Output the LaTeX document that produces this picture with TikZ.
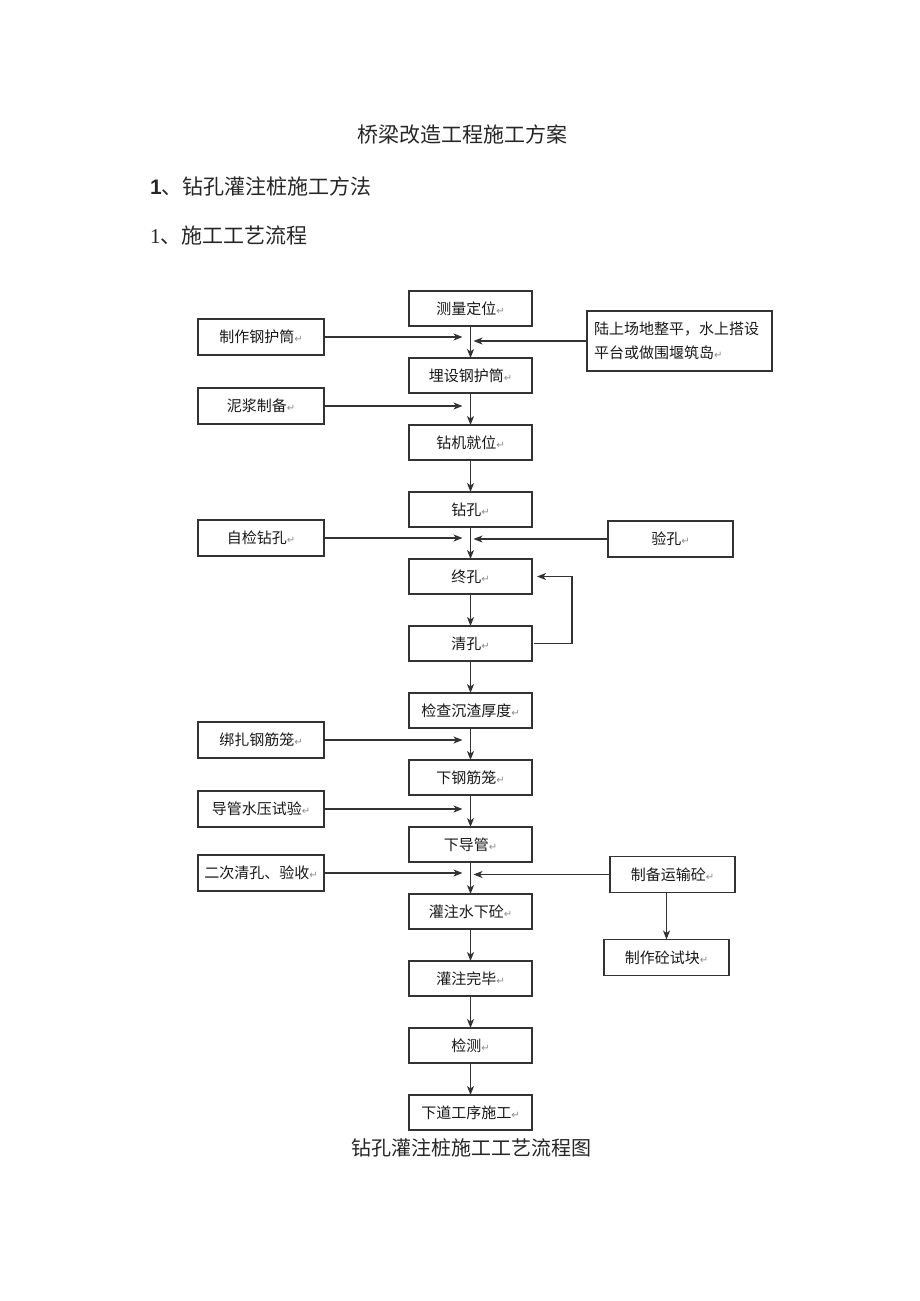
\documentclass[tikz,border=0pt]{standalone}
\usepackage{fontspec}
\setmainfont{Noto Sans CJK SC}
\newfontfamily\symfont{DejaVu Sans}
\newfontfamily\serifnum{Liberation Serif}
\newfontfamily\sansnum{Liberation Sans}
\usetikzlibrary{arrows.meta,positioning}
\newcommand{\ret}{{\symfont\fontsize{10}{10}\selectfont\color{black!45}↵}}

\begin{document}
\begin{tikzpicture}[
  x=1pt, y=-1pt,
  node distance=32pt,
  box/.style={draw=black!80, line width=1.2pt, outer sep=0pt, minimum width=123pt, minimum height=35pt, inner sep=0pt, font=\fontsize{15}{18}\selectfont, text=black!90},
  side/.style={box, minimum width=126pt, minimum height=36pt},
  heading/.style={inner sep=0pt, font=\fontsize{21}{21}\selectfont, text=black!85},
  arrow/.style={-{Stealth[length=9pt, width=7pt, inset=2.5pt]}, line width=1.2pt, draw=black!80}
]
\path[fill=white] (0,0) rectangle (920,1301);
\useasboundingbox (0,0) rectangle (920,1301);

% headings
\node[heading] (title) at (462,135) {桥梁改造工程施工方案};
\node[heading, anchor=west] (sec) at (150,186) {{\sansnum\bfseries 1}、钻孔灌注桩施工方法};
\node[heading, anchor=west] (subsec) at (150,236) {{\serifnum 1}、施工工艺流程};

% main column
\node[box] (measure) at (470.5,308.5) {测量定位\ret};
\node[box, below=of measure] (casing) {埋设钢护筒\ret};
\node[box, below=of casing] (rig) {钻机就位\ret};
\node[box, below=of rig] (drill) {钻孔\ret};
\node[box, below=of drill] (finish) {终孔\ret};
\node[box, below=of finish] (clean) {清孔\ret};
\node[box, below=of clean] (check) {检查沉渣厚度\ret};
\node[box, below=of check] (cage) {下钢筋笼\ret};
\node[box, below=of cage] (pipe) {下导管\ret};
\node[box, below=of pipe] (pour) {灌注水下砼\ret};
\node[box, below=of pour] (done) {灌注完毕\ret};
\node[box, below=of done] (test) {检测\ret};
\node[box, below=of test] (next) {下道工序施工\ret};

% left column
\node[side] (makecasing) at (261,337) {制作钢护筒\ret};
\node[side] (mud) at (261,406) {泥浆制备\ret};
\node[side] (selfcheck) at (261,538) {自检钻孔\ret};
\node[side] (tiecage) at (261,740) {绑扎钢筋笼\ret};
\node[side] (pipetest) at (261,809) {导管水压试验\ret};
\node[side] (reclean) at (261,873) {二次清孔、验收\ret};

% right column
\node[box, minimum height=60pt, align=left, text width=171pt, inner xsep=7pt, font=\fontsize{15}{24}\selectfont] (site) at (679.5,341) {陆上场地整平，水上搭设\\平台或做围堰筑岛\ret};
\node[side, minimum width=125pt] (inspect) at (670.5,539) {验孔\ret};
\node[side, minimum width=125pt] (concrete) at (672.5,874.5) {制备运输砼\ret};
\node[side, minimum width=125pt] (sample) at (666.5,957.5) {制作砼试块\ret};

% main flow
\foreach \a/\b in {measure/casing, casing/rig, rig/drill, drill/finish, finish/clean, clean/check,
  check/cage, cage/pipe, pipe/pour, pour/done, done/test, test/next}
  \draw[arrow] (\a) -- (\b);

% inputs from the left
\foreach \s/\t in {makecasing/measure, mud/casing, selfcheck/drill, tiecage/check, pipetest/cage, reclean/pipe}
  \draw[arrow, shorten >=8pt] (\s.east) -- (\s.east -| \t.south);

% inputs from the right
\foreach \s/\t in {site/measure, inspect/drill, concrete/pipe}
  \draw[arrow, shorten >=3pt] (\s.west) -- (\s.west -| \t.south);

% loop back and samples
\draw[arrow] ([xshift=2pt]clean.east) -- ++(38,0) |- ([xshift=5pt]finish.east);
\draw[arrow] (concrete.south -| sample.north) -- (sample.north);

% caption
\node[heading, font=\fontsize{20}{20}\selectfont] (caption) at (471,1148) {钻孔灌注桩施工工艺流程图};
\end{tikzpicture}
\end{document}
